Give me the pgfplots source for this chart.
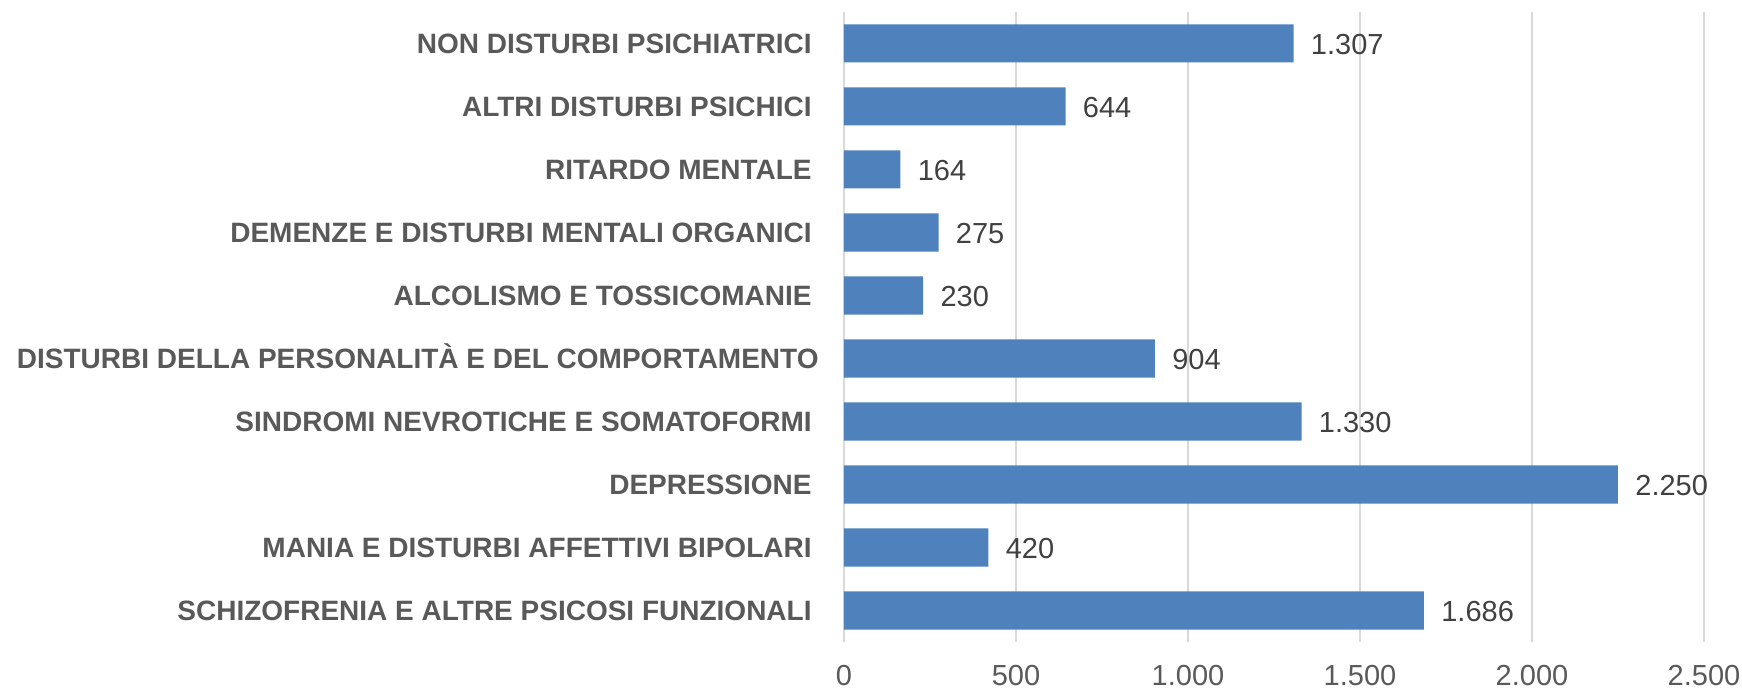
\documentclass[border=0pt]{standalone}
\usepackage{pgfplots}
\pgfplotsset{compat=1.18}
\usepackage{pgfplotstable}
\usepackage{fontspec}
\setmainfont{Liberation Sans}
\definecolor{barblue}{HTML}{4F81BD}
\definecolor{gridgray}{HTML}{D9D9D9}
\definecolor{labgray}{HTML}{595959}
\definecolor{valgray}{HTML}{404040}

\pgfplotstableread[col sep=comma]{
pos,value,label
0,1686,1.686
1,420,420
2,2250,2.250
3,1330,1.330
4,904,904
5,230,230
6,275,275
7,164,164
8,644,644
9,1307,1.307
}\datatable

\begin{document}
\begin{tikzpicture}
\path[use as bounding box] (-422bp,-23bp) rectangle (449bp,321bp);
\begin{axis}[
  at={(0,0)}, anchor=south west, scale only axis,
  width=430bp, height=315bp,
  xbar, bar width=19bp,
  xmin=0, xmax=2500, ymin=-0.5, ymax=9.5,
  xtick={0,500,1000,1500,2000,2500},
  xticklabels={0,500,1.000,1.500,2.000,2.500},
  ytick={0,1,2,3,4,5,6,7,8,9},
  yticklabels={SCHIZOFRENIA E ALTRE PSICOSI FUNZIONALI,MANIA E DISTURBI AFFETTIVI BIPOLARI,DEPRESSIONE,SINDROMI NEVROTICHE E SOMATOFORMI,DISTURBI DELLA PERSONALITÀ E DEL COMPORTAMENTO\hspace*{-3.5bp},ALCOLISMO E TOSSICOMANIE,DEMENZE E DISTURBI MENTALI ORGANICI,RITARDO MENTALE,ALTRI DISTURBI PSICHICI,NON DISTURBI PSICHIATRICI},
  xmajorgrids, ymajorgrids=false,
  major grid style={draw=gridgray, line width=0.9bp},
  axis line style={draw=none},
  major tick length=0pt,
  tick style={draw=none},
  xticklabel style={font=\fontsize{14.5bp}{17bp}\selectfont, text=labgray, inner sep=0pt, anchor=base, yshift=-21.5bp},
  yticklabel style={font=\fontsize{14bp}{16bp}\selectfont\bfseries, text=labgray, inner sep=0pt, anchor=base east, xshift=-16bp, yshift=-5bp},
  nodes near coords,
  point meta=explicit symbolic,
  every node near coord/.append style={font=\fontsize{14.5bp}{17bp}\selectfont, text=valgray, inner sep=0pt, anchor=base west, xshift=8.5bp, yshift=-5.6bp},
  clip=false,
]
\addplot[fill=barblue, draw=none] table[x=value, y=pos, meta=label]{\datatable};
\end{axis}
\end{tikzpicture}
\end{document}
